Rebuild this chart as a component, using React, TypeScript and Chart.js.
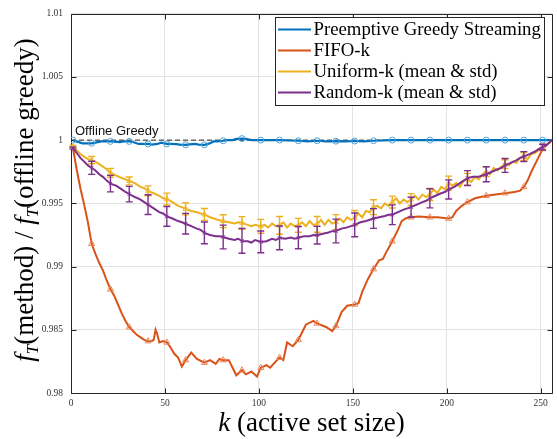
import React, { useEffect, useRef } from "react";
import { Chart, registerables } from "chart.js";
Chart.register(...registerables);

// ---------- data ----------
const seriesLabels = [
  "Preemptive Greedy Streaming",
  "FIFO-k",
  "Uniform-k (mean & std)",
  "Random-k (mean & std)",
];

const preemptiveK = [1, 3, 6, 8, 11, 13, 16, 18, 21, 23, 26, 28, 31, 33, 36, 38, 41, 43, 46, 48, 51, 53, 56, 58, 61, 63, 66, 68, 71, 73, 76, 78, 81, 83, 86, 88, 91, 93, 96, 101, 111, 121, 126, 131, 136, 141, 146, 151, 156, 161, 171, 181, 191, 201, 211, 221, 231, 241, 251, 256];
const preemptiveV = [1.0, 0.9999, 0.99975, 0.99975, 0.99975, 0.9998, 0.9999, 0.9999, 0.9999, 0.99988, 0.99985, 0.9999, 0.9999, 0.99985, 0.9997, 0.9997, 0.9997, 0.99965, 0.9997, 0.9998, 0.9997, 0.9997, 0.99968, 0.99965, 0.99963, 0.99967, 0.9997, 0.99965, 0.99963, 0.9997, 0.9999, 0.9999, 0.99995, 1.0, 1.0, 1.0001, 1.00012, 1.0001, 1.0, 1.0, 1.0, 0.99995, 0.9999, 0.99995, 0.9999, 0.99992, 0.9999, 0.99993, 0.9999, 0.99995, 1.0, 1.0, 1.0, 1.0, 1.0, 1.0, 1.0, 1.0, 1.0, 1.0];

const fifoK = [1, 3, 5, 7, 9, 11, 13, 15, 17, 19, 21, 23, 25, 27, 29, 31, 33, 35, 37, 39, 41, 43, 44, 45, 46, 47, 49, 51, 53, 55, 57, 59, 61, 64, 67, 71, 74, 77, 79, 81, 84, 86, 88, 91, 93, 96, 99, 101, 104, 106, 109, 111, 113, 115, 118, 121, 125, 129, 131, 136, 139, 141, 144, 147, 151, 153, 155, 158, 161, 164, 166, 168, 171, 174, 176, 178, 181, 185, 191, 195, 201, 203, 205, 208, 211, 215, 221, 226, 231, 236, 239, 241, 243, 245, 248, 251, 253, 256];
const fifoV = [0.9994, 0.9977, 0.9962, 0.9949, 0.9935, 0.9918, 0.991, 0.9903, 0.9897, 0.9889, 0.9882, 0.9877, 0.987, 0.9863, 0.9857, 0.9852, 0.9849, 0.9846, 0.9844, 0.9842, 0.9841, 0.98412, 0.9842, 0.985, 0.9846, 0.984, 0.9841, 0.984, 0.9836, 0.9831, 0.9828, 0.9821, 0.9826, 0.9832, 0.9827, 0.9824, 0.9826, 0.9823, 0.9827, 0.9826, 0.9826, 0.982, 0.9814, 0.9818, 0.98148, 0.9817, 0.9813, 0.982, 0.9822, 0.982, 0.9825, 0.9828, 0.9826, 0.984, 0.9837, 0.9842, 0.9854, 0.9857, 0.9855, 0.9852, 0.9849, 0.9853, 0.9864, 0.9869, 0.987, 0.9871, 0.988, 0.989, 0.9898, 0.9905, 0.9906, 0.9912, 0.992, 0.9929, 0.9936, 0.9938, 0.9939, 0.99395, 0.9939, 0.9939, 0.9938, 0.9939, 0.9944, 0.9948, 0.9951, 0.9954, 0.9956, 0.9957, 0.9958, 0.9959, 0.996, 0.9963, 0.9968, 0.9975, 0.9984, 0.9993, 0.9996, 1.0];

const uniformK = [1, 3, 5, 7, 9, 11, 13, 15, 17, 19, 21, 24, 27, 29, 31, 34, 37, 39, 41, 44, 47, 49, 51, 54, 57, 59, 61, 64, 67, 69, 71, 74, 76, 78, 81, 84, 87, 89, 91, 94, 96, 98, 101, 103, 105, 107, 109, 111, 113, 115, 117, 119, 121, 123, 125, 127, 129, 131, 133, 135, 137, 139, 141, 143, 145, 147, 149, 151, 153, 155, 157, 159, 161, 163, 165, 167, 169, 171, 173, 175, 177, 179, 181, 183, 185, 187, 189, 191, 193, 195, 197, 199, 201, 203, 205, 207, 209, 211, 213, 215, 217, 219, 221, 223, 225, 227, 229, 231, 233, 235, 237, 239, 241, 243, 245, 247, 249, 251, 253, 256];
const uniformV = [0.9995, 0.9992, 0.9989, 0.9987, 0.9985, 0.99842, 0.9983, 0.9981, 0.9979, 0.9977, 0.99742, 0.9972, 0.997, 0.9969, 0.99677, 0.9966, 0.9963, 0.9962, 0.99599, 0.9958, 0.9956, 0.9954, 0.99534, 0.9951, 0.9948, 0.9947, 0.99456, 0.9944, 0.9943, 0.9942, 0.99412, 0.9939, 0.9938, 0.9937, 0.99359, 0.9935, 0.9934, 0.9935, 0.99346, 0.9933, 0.9932, 0.9933, 0.99318, 0.9933, 0.9931, 0.9934, 0.9932, 0.99326, 0.9935, 0.9931, 0.9934, 0.9932, 0.99326, 0.9935, 0.9932, 0.9936, 0.9933, 0.99334, 0.9937, 0.9933, 0.9937, 0.9934, 0.99352, 0.9938, 0.9935, 0.9939, 0.9937, 0.99385, 0.9942, 0.9939, 0.9944, 0.9943, 0.9947, 0.9948, 0.9946, 0.995, 0.9948, 0.9951, 0.9954, 0.995, 0.9953, 0.9951, 0.9953, 0.9956, 0.9953, 0.9957, 0.9955, 0.9957, 0.9961, 0.9958, 0.9963, 0.9961, 0.9966, 0.9964, 0.9966, 0.9963, 0.9968, 0.9969, 0.9967, 0.9971, 0.9969, 0.9973, 0.9975, 0.9973, 0.9978, 0.9976, 0.9979, 0.9981, 0.998, 0.9983, 0.9982, 0.9986, 0.9987, 0.9985, 0.9989, 0.999, 0.9992, 0.99945, 0.9996, 1.0];

const randomK = [1, 3, 5, 7, 9, 11, 13, 15, 17, 19, 21, 24, 27, 29, 31, 34, 37, 39, 41, 44, 47, 49, 51, 54, 57, 59, 61, 64, 67, 69, 71, 74, 77, 79, 81, 84, 87, 89, 91, 94, 96, 98, 101, 104, 107, 109, 111, 114, 117, 119, 121, 124, 127, 129, 131, 134, 137, 139, 141, 144, 147, 149, 151, 154, 157, 159, 161, 164, 167, 169, 171, 174, 177, 179, 181, 184, 187, 189, 191, 194, 197, 199, 201, 204, 207, 209, 211, 214, 217, 219, 221, 224, 227, 229, 231, 234, 237, 239, 241, 244, 247, 249, 251, 253, 256];
const randomV = [0.99937, 0.999, 0.9986, 0.9983, 0.998, 0.99781, 0.9976, 0.9973, 0.9971, 0.9968, 0.99656, 0.9964, 0.9961, 0.9959, 0.99573, 0.9955, 0.9953, 0.9951, 0.9949, 0.9946, 0.9943, 0.9942, 0.99397, 0.9938, 0.9936, 0.9935, 0.99339, 0.9932, 0.993, 0.9929, 0.99266, 0.9925, 0.9924, 0.9924, 0.99234, 0.9922, 0.9921, 0.9922, 0.99203, 0.992, 0.9919, 0.9921, 0.99195, 0.992, 0.9922, 0.9921, 0.99227, 0.9922, 0.9923, 0.9922, 0.99229, 0.9924, 0.9924, 0.9925, 0.99248, 0.9926, 0.9927, 0.9928, 0.99281, 0.993, 0.9931, 0.9932, 0.9933, 0.9935, 0.9936, 0.9937, 0.9938, 0.9939, 0.994, 0.9941, 0.9941, 0.9943, 0.9945, 0.9946, 0.9947, 0.9949, 0.9951, 0.9952, 0.9954, 0.9956, 0.9958, 0.9959, 0.9961, 0.9963, 0.9966, 0.9968, 0.997, 0.9971, 0.9971, 0.9972, 0.9973, 0.9975, 0.9977, 0.9978, 0.998, 0.9982, 0.9984, 0.9986, 0.9987, 0.9989, 0.9991, 0.9993, 0.99945, 0.9996, 1.0];

const errK = [1, 11, 21, 31, 41, 51, 61, 71, 81, 91, 101, 111, 121, 131, 141, 151, 161, 171, 181, 191, 201, 211, 221, 231, 241, 251];
const uniformStd = [0.00008, 0.00029, 0.00035, 0.00031, 0.00039, 0.00047, 0.00047, 0.00047, 0.00051, 0.00049, 0.00055, 0.0007, 0.00055, 0.00062, 0.00059, 0.00059, 0.00059, 0.00047, 0.00047, 0.00047, 0.00055, 0.00047, 0.00039, 0.00035, 0.00031, 0.00023];
const randomStd = [0.00008, 0.00052, 0.00065, 0.00061, 0.00078, 0.00078, 0.00082, 0.00086, 0.00094, 0.00098, 0.00086, 0.00094, 0.00088, 0.0007, 0.00094, 0.00094, 0.00078, 0.00078, 0.00078, 0.00076, 0.00076, 0.00059, 0.00059, 0.00055, 0.00039, 0.00023];

const offlineK = [0, 256];
const offlineV = [1, 1];

const xTicks = [0, 50, 100, 150, 200, 250];
const yTicks = [0.98, 0.985, 0.99, 0.995, 1, 1.005, 1.01];
const yTickLabels = ["0.98", "0.985", "0.99", "0.995", "1", "1.005", "1.01"];

// ---------- styles ----------
const COLORS = ["#0072BD", "#D95319", "#EDB120", "#7E2F8E"];
const MARKER_COLORS = ["#4FA3DA", "#E8865A", "#F0C04E", "#8E4A9E"];
const SERIF = "'Liberation Serif', 'Times New Roman', serif";

const toPts = (k: number[], v: number[]) => k.map((x, i) => ({ x, y: v[i] }));
const markerRadius = (r: number) => (ctx: any) => {
  const raw = ctx.raw;
  return raw && (raw.x - 1) % 10 === 0 ? r : 0;
};

const errorBarPlugin = {
  id: "errorBars",
  afterDatasetDraw(chart: any, args: any) {
    const ds = chart.data.datasets[args.index];
    if (!ds.errStd) return;
    const { ctx, scales } = chart;
    const xs = scales.x;
    const ys = scales.y;
    ctx.save();
    ctx.strokeStyle = ds.errColor;
    ctx.lineWidth = 1.4;
    ds.errK.forEach((k: number, i: number) => {
      const idx = ds.kList.indexOf(k);
      if (idx < 0) return;
      const m = ds.vList[idx];
      const s = ds.errStd[i];
      const px = xs.getPixelForValue(k);
      const pTop = ys.getPixelForValue(m + s);
      const pBot = ys.getPixelForValue(m - s);
      const cap = 3.5;
      ctx.beginPath();
      ctx.moveTo(px, pTop);
      ctx.lineTo(px, pBot);
      ctx.moveTo(px - cap, pTop);
      ctx.lineTo(px + cap, pTop);
      ctx.moveTo(px - cap, pBot);
      ctx.lineTo(px + cap, pBot);
      ctx.stroke();
    });
    ctx.restore();
  },
};

const boxPlugin = {
  id: "axesBox",
  beforeDatasetsDraw(chart: any) {
    const { ctx, chartArea: a, scales } = chart;
    ctx.save();
    ctx.strokeStyle = "#262626";
    ctx.lineWidth = 1;
    ctx.beginPath();
    const L = Math.round(a.left) + 0.5;
    const R = Math.round(a.right) + 0.5;
    const T = Math.round(a.top) + 0.5;
    const B = Math.round(a.bottom) + 0.5;
    ctx.rect(L, T, R - L, B - T);
    const tl = 5;
    xTicks.forEach((v) => {
      const px = Math.round(scales.x.getPixelForValue(v)) + 0.5;
      ctx.moveTo(px, B);
      ctx.lineTo(px, B - tl);
      ctx.moveTo(px, T);
      ctx.lineTo(px, T + tl);
    });
    yTicks.forEach((v) => {
      const py = Math.round(scales.y.getPixelForValue(v)) + 0.5;
      ctx.moveTo(L, py);
      ctx.lineTo(L + tl, py);
      ctx.moveTo(R, py);
      ctx.lineTo(R - tl, py);
    });
    ctx.stroke();
    ctx.restore();
  },
  afterDraw(chart: any) {
    const { ctx, chartArea: a, scales } = chart;
    ctx.save();
    // Offline Greedy label
    ctx.fillStyle = "#111";
    ctx.font = "13px 'Liberation Sans', Arial, sans-serif";
    ctx.textBaseline = "alphabetic";
    ctx.textAlign = "left";
    ctx.fillText("Offline Greedy", a.left + 4, scales.y.getPixelForValue(1) - 5);

    // legend
    const lx = 275, ly = 17, lw = 269, lh = 88;
    ctx.fillStyle = "#fff";
    ctx.fillRect(lx, ly, lw, lh);
    ctx.strokeStyle = "#262626";
    ctx.lineWidth = 1;
    ctx.strokeRect(lx + 0.5, ly + 0.5, lw, lh);
    ctx.font = `18.8px ${SERIF}`;
    ctx.textBaseline = "middle";
    seriesLabels.forEach((lab, i) => {
      const yy = ly + 12.5 + i * 21;
      ctx.strokeStyle = COLORS[i];
      ctx.lineWidth = 2;
      ctx.beginPath();
      ctx.moveTo(lx + 3, yy);
      ctx.lineTo(lx + 36, yy);
      ctx.stroke();
      ctx.fillStyle = "#000";
      ctx.fillText(lab, lx + 38.5, yy + 1);
    });

    // x axis title
    const big = 27;
    const segX = [
      { t: "k", f: `italic ${big}px ${SERIF}`, dy: 0 },
      { t: " (active set size)", f: `${big}px ${SERIF}`, dy: 0 },
    ];
    ctx.textBaseline = "alphabetic";
    ctx.fillStyle = "#000";
    let w = 0;
    segX.forEach((s) => { ctx.font = s.f; w += ctx.measureText(s.t).width; });
    let cx = (a.left + a.right) / 2 - w / 2;
    segX.forEach((s) => { ctx.font = s.f; ctx.fillText(s.t, cx, 431 + s.dy); cx += ctx.measureText(s.t).width; });

    // y axis title
    const sub = 17;
    const segY = [
      { t: "f", f: `italic ${big}px ${SERIF}`, dy: 0 },
      { t: "T", f: `italic ${sub}px ${SERIF}`, dy: 5 },
      { t: "(method) / ", f: `${big}px ${SERIF}`, dy: 0 },
      { t: "f", f: `italic ${big}px ${SERIF}`, dy: 0 },
      { t: "T", f: `italic ${sub}px ${SERIF}`, dy: 5 },
      { t: "(offline greedy)", f: `${big}px ${SERIF}`, dy: 0 },
    ];
    w = 0;
    segY.forEach((s) => { ctx.font = s.f; w += ctx.measureText(s.t).width; });
    ctx.translate(33, 200);
    ctx.rotate(-Math.PI / 2);
    cx = -w / 2;
    segY.forEach((s) => { ctx.font = s.f; ctx.fillText(s.t, cx, s.dy); cx += ctx.measureText(s.t).width; });
    ctx.restore();
  },
};

export default function App() {
  const ref = useRef<HTMLCanvasElement | null>(null);
  useEffect(() => {
    if (!ref.current) return;
    const chart = new Chart(ref.current, {
      type: "line",
      data: {
        datasets: [
          {
            label: "Offline Greedy",
            data: toPts(offlineK, offlineV),
            borderColor: "#262626",
            borderWidth: 1,
            borderDash: [5, 3],
            pointRadius: 0,
            order: 5,
          } as any,
          {
            label: seriesLabels[0],
            data: toPts(preemptiveK, preemptiveV),
            borderColor: COLORS[0],
            borderWidth: 2.2,
            pointStyle: "circle",
            pointRadius: markerRadius(3),
            pointBorderColor: MARKER_COLORS[0],
            pointBackgroundColor: "rgba(0,0,0,0)",
            pointBorderWidth: 1,
            order: 4,
          },
          {
            label: seriesLabels[1],
            data: toPts(fifoK, fifoV),
            borderColor: COLORS[1],
            borderWidth: 2,
            pointStyle: "triangle",
            pointRadius: markerRadius(3.5),
            pointBorderColor: MARKER_COLORS[1],
            pointBackgroundColor: "rgba(0,0,0,0)",
            pointBorderWidth: 1,
            order: 3,
          },
          {
            label: seriesLabels[2],
            data: toPts(uniformK, uniformV),
            borderColor: COLORS[2],
            borderWidth: 2,
            pointStyle: "triangle",
            pointRadius: markerRadius(3),
            pointBorderColor: MARKER_COLORS[2],
            pointBackgroundColor: "rgba(0,0,0,0)",
            pointBorderWidth: 1,
            order: 2,
            errK: errK,
            errStd: uniformStd,
            kList: uniformK,
            vList: uniformV,
            errColor: COLORS[2],
          } as any,
          {
            label: seriesLabels[3],
            data: toPts(randomK, randomV),
            borderColor: COLORS[3],
            borderWidth: 2,
            pointStyle: "crossRot",
            pointRadius: markerRadius(2.5),
            pointBorderColor: MARKER_COLORS[3],
            pointBackgroundColor: "rgba(0,0,0,0)",
            pointBorderWidth: 1,
            order: 1,
            errK: errK,
            errStd: randomStd,
            kList: randomK,
            vList: randomV,
            errColor: COLORS[3],
          } as any,
        ],
      },
      options: {
        animation: false,
        responsive: false,
        events: [],
        layout: { padding: { top: 10, right: 5, left: 0, bottom: 0 } },
        elements: { line: { tension: 0 } },
        plugins: { legend: { display: false }, tooltip: { enabled: false } },
        scales: {
          x: {
            type: "linear",
            min: 0,
            max: 256,
            afterBuildTicks: (s: any) => { s.ticks = xTicks.map((v) => ({ value: v })); },
            afterFit: (s: any) => { s.height = 46; },
            grid: { color: "#E3E3E3", drawTicks: false },
            border: { display: false },
            ticks: {
              padding: 5,
              color: "#333",
              font: { family: SERIF, size: 9.5 },
              maxRotation: 0,
              callback: (v: any) => String(v),
            },
          },
          y: {
            type: "linear",
            min: 0.98,
            max: 1.01,
            afterBuildTicks: (s: any) => { s.ticks = yTicks.map((v) => ({ value: v })); },
            afterFit: (s: any) => { s.width = 71; },
            grid: { color: "#E3E3E3", drawTicks: false },
            border: { display: false },
            ticks: {
              padding: 8,
              color: "#333",
              font: { family: SERIF, size: 9.5 },
              callback: (v: any) => {
                const i = yTicks.findIndex((t) => Math.abs(t - v) < 1e-9);
                return i >= 0 ? yTickLabels[i] : "";
              },
            },
          },
        },
      },
      plugins: [errorBarPlugin, boxPlugin],
    });
    return () => chart.destroy();
  }, []);
  return (
    <div style={{ position: "fixed", left: 0, top: 0, width: 557, height: 439, background: "#fff" }}>
      <canvas ref={ref} width={557} height={439} style={{ width: 557, height: 439 }} />
    </div>
  );
}
